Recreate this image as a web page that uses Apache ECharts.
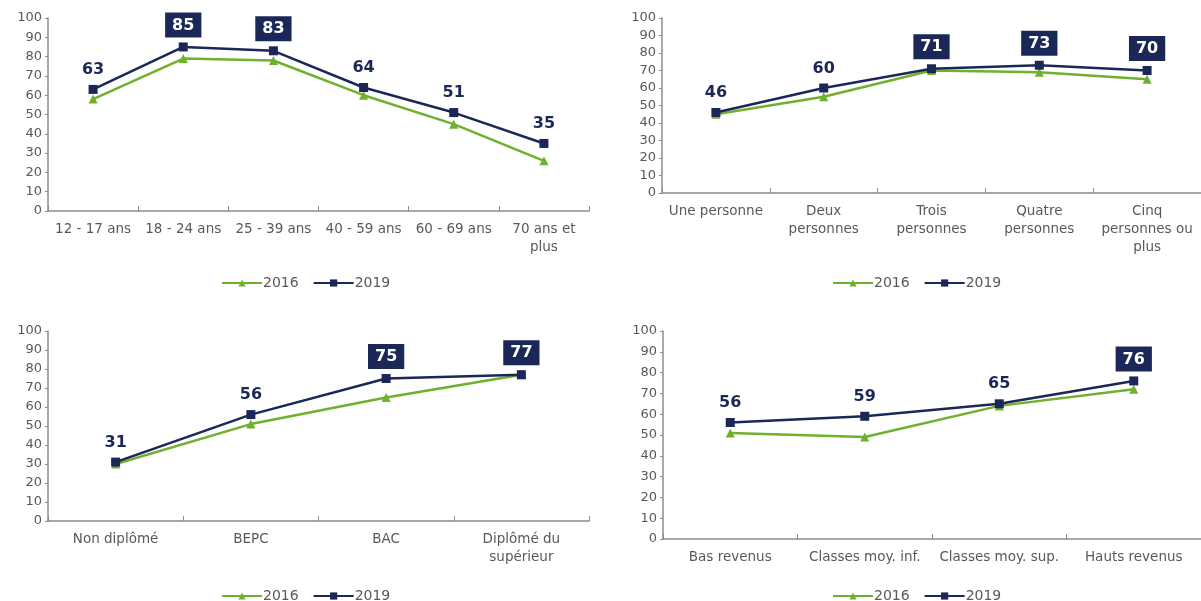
<!DOCTYPE html>
<html>
<head>
<meta charset="utf-8">
<script src="https://cdn.jsdelivr.net/npm/echarts@6/dist/echarts.min.js"></script>
<style>
  html, body { margin: 0; padding: 0; background: #fff; }
  #chart { width: 1201px; height: 601px; }
</style>
</head>
<body>
<div id="chart"></div>
<script>
  // ---- données ----
  const ageCats = ['12 - 17 ans', '18 - 24 ans', '25 - 39 ans', '40 - 59 ans', '60 - 69 ans', '70 ans et\nplus']
  const age2016 = [58, 79, 78, 60, 45, 26]
  const age2019 = [63, 85, 83, 64, 51, 35]

  const foyerCats = ['Une personne', 'Deux\npersonnes', 'Trois\npersonnes', 'Quatre\npersonnes', 'Cinq\npersonnes ou\nplus']
  const foyer2016 = [45, 55, 70, 69, 65]
  const foyer2019 = [46, 60, 71, 73, 70]

  const diplomeCats = ['Non diplômé', 'BEPC', 'BAC', 'Diplômé du\nsupérieur']
  const diplome2016 = [30, 51, 65, 77]
  const diplome2019 = [31, 56, 75, 77]

  const revenuCats = ['Bas revenus', 'Classes moy. inf.', 'Classes moy. sup.', 'Hauts revenus']
  const revenu2016 = [51, 49, 64, 72]
  const revenu2019 = [56, 59, 65, 76]

  const yTicks = [0, 10, 20, 30, 40, 50, 60, 70, 80, 90, 100]

  // ---- couleurs ----
  const GREEN = '#6fb12c'
  const NAVY = '#1b2857'
  const GREY = '#595959'
  const FONT = 'DejaVu Sans'

  const chart = echarts.init(document.getElementById('chart'))

  // position des 4 panneaux
  const grids = [
    { left: 48, right: 612, top: 18, bottom: 390 },
    { left: 662, right: -2, top: 18, bottom: 408 },
    { left: 48, right: 612, top: 331, bottom: 80 },
    { left: 663, right: -3, top: 331, bottom: 62 }
  ]
  const panels = [
    [ageCats, age2016, age2019],
    [foyerCats, foyer2016, foyer2019],
    [diplomeCats, diplome2016, diplome2019],
    [revenuCats, revenu2016, revenu2019]
  ]
  const legendPos = [
    { left: 216, top: 271 },
    { left: 827, top: 271 },
    { left: 216, top: 584 },
    { left: 827, top: 584 }
  ]

  // étiquette 2019 : encadrée quand >= 70
  function labelled(values) {
    return values.map(v => {
      if (v >= 70) {
        return {
          value: v,
          label: {
            backgroundColor: NAVY,
            color: '#fff',
            padding: [5, 7, 4, 7],
            distance: 5
          }
        }
      }
      return v
    })
  }

  const xAxis = [], yAxis = [], series = [], legend = []
  panels.forEach((p, i) => {
    xAxis.push({
      type: 'category',
      gridIndex: i,
      data: p[0],
      boundaryGap: true,
      axisLine: { lineStyle: { color: '#8c8c8c', width: 1.5 } },
      axisTick: { show: true, inside: true, length: 5, lineStyle: { color: '#8c8c8c' } },
      axisLabel: { interval: 0, color: GREY, fontFamily: FONT, fontSize: 13.5, lineHeight: 18, margin: 9 }
    })
    yAxis.push({
      type: 'value',
      gridIndex: i,
      min: yTicks[0],
      max: yTicks[yTicks.length - 1],
      interval: yTicks[1] - yTicks[0],
      axisLine: { show: true, lineStyle: { color: '#8c8c8c', width: 1.5 } },
      axisTick: { show: true, length: 3, lineStyle: { color: '#8c8c8c' } },
      axisLabel: { color: GREY, fontFamily: FONT, fontSize: 13, margin: 6 },
      splitLine: { show: false }
    })
    series.push({
      name: '2016',
      type: 'line',
      xAxisIndex: i,
      yAxisIndex: i,
      data: p[1],
      symbol: 'triangle',
      symbolSize: 9,
      lineStyle: { color: GREEN, width: 2.5 },
      itemStyle: { color: GREEN },
      z: 2
    })
    series.push({
      name: '2019',
      type: 'line',
      xAxisIndex: i,
      yAxisIndex: i,
      data: labelled(p[2]),
      symbol: 'rect',
      symbolSize: 9,
      lineStyle: { color: NAVY, width: 2.5 },
      itemStyle: { color: NAVY },
      label: {
        show: true,
        position: 'top',
        distance: 7,
        color: NAVY,
        fontFamily: FONT,
        fontWeight: 'bold',
        fontSize: 16
      },
      z: 3
    })
    legend.push({
      left: legendPos[i].left,
      top: legendPos[i].top,
      data: ['2016', '2019'],
      itemWidth: 40,
      itemHeight: 9,
      itemGap: 14,
      textStyle: { color: GREY, fontFamily: FONT, fontSize: 14, padding: [0, 0, 0, -4] }
    })
  })

  chart.setOption({
    animation: false,
    backgroundColor: '#fff',
    grid: grids,
    legend: legend,
    xAxis: xAxis,
    yAxis: yAxis,
    series: series
  })
</script>
</body>
</html>
